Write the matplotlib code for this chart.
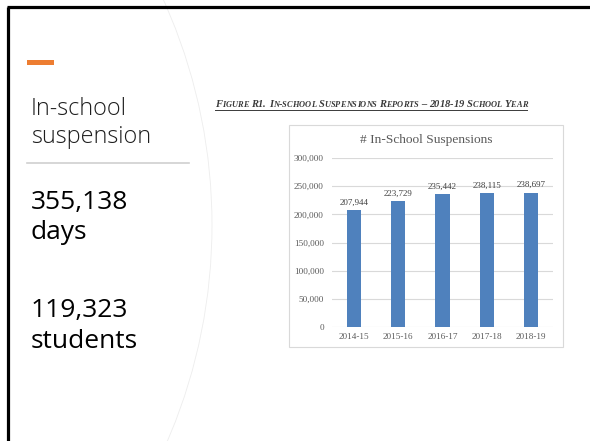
import matplotlib
matplotlib.use("Agg")
import matplotlib.pyplot as plt
from matplotlib.patches import Rectangle, Circle
from matplotlib.lines import Line2D
from matplotlib.font_manager import FontProperties

# data
years = ["2014-15", "2015-16", "2016-17", "2017-18", "2018-19"]
suspensions = [207944, 223729, 235442, 238115, 238697]
yticks = [0, 50000, 100000, 150000, 200000, 250000, 300000]

heading = ["In-school", "suspension"]
stat_days = ["355,138", "days"]
stat_students = ["119,323", "students"]
caption = "Figure R1. In-school Suspensions Reports \u2013 2018-19 School Year"
chart_title = "# In-School Suspensions"

W, H = 590, 441
fig = plt.figure(figsize=(W / 100, H / 100), dpi=100)
fig.patch.set_facecolor("white")

# slide layer in pixel coordinates
bg = fig.add_axes([0, 0, 1, 1], zorder=0)
bg.set_xlim(0, W)
bg.set_ylim(H, 0)
bg.axis("off")

# frame on top and left
bg.add_line(Line2D([7, W], [7, 7], color="black", lw=2.3, solid_capstyle="butt"))
bg.add_line(Line2D([8, 8], [7, H], color="black", lw=2.3, solid_capstyle="butt"))

# faint arc of the slide design
bg.add_patch(Circle((-334, 225), 546, fill=False, ec="#EDEDED", lw=0.6))

# orange accent and divider
bg.add_patch(Rectangle((27, 60), 27, 4.5, color="#ED7D31", lw=0))
bg.add_line(Line2D([27, 189], [163, 163], color="#D0D0D0", lw=1.2))

side_font = "Open Sans"
bg.text(31, 115, heading[0], fontsize=16.8, family=side_font, color="#1E1E1E",
        va="baseline", weight="light")
bg.text(31, 143, heading[1], fontsize=16.8, family=side_font, color="#1E1E1E",
        va="baseline", weight="light")
bg.text(31, 209, stat_days[0], fontsize=19, family=side_font, color="black", va="baseline")
bg.text(31, 239, stat_days[1], fontsize=19, family=side_font, color="black", va="baseline")
bg.text(31, 317, stat_students[0], fontsize=19, family=side_font, color="black", va="baseline")
bg.text(31, 348, stat_students[1], fontsize=19, family=side_font, color="black", va="baseline")

# caption in small caps: lowercase letters drawn as smaller capitals
renderer = fig.canvas.get_renderer()
big_fp = FontProperties(family="Liberation Serif", weight="bold", style="italic", size=7.6)
small_fp = FontProperties(family="Liberation Serif", weight="bold", style="italic", size=6.0)
x = 215
for ch in caption:
    fp = small_fp if ch.islower() else big_fp
    glyph = ch.upper()
    bg.text(x, 107, glyph, fontproperties=fp, color="#3A3A3A", va="baseline")
    w, _, _ = renderer.get_text_width_height_descent(glyph, fp, ismath=False)
    x += w
bg.add_line(Line2D([215, x], [109.5, 109.5], color="#3A3A3A", lw=0.7))

# chart card
bg.add_patch(Rectangle((289, 125), 274, 222, fc="white", ec="#D9D9D9", lw=0.8))
bg.text(426, 140, chart_title, fontsize=9.6, family="Liberation Serif",
        color="#595959", ha="center", va="center")

# bar chart
ax = fig.add_axes([332 / W, 1 - 327 / H, 221 / W, 169 / H], zorder=2)
ax.patch.set_alpha(0)
bars = ax.bar(years, suspensions, width=0.32, color="#4F81BD", zorder=3)
ax.set_ylim(0, 300000)
ax.set_xlim(-0.5, len(years) - 0.5)
ax.set_yticks(yticks)
ax.set_yticklabels([f"{v:,}" for v in yticks])
ax.grid(axis="y", color="#D9D9D9", lw=0.8, zorder=0)
for s in ax.spines.values():
    s.set_visible(False)
ax.tick_params(length=0, labelsize=6.6, labelcolor="#595959")
ax.tick_params(axis="y", pad=5.8)
ax.tick_params(axis="x", pad=4.5)
for lbl in ax.get_xticklabels() + ax.get_yticklabels():
    lbl.set_family("Liberation Serif")

for b, v in zip(bars, suspensions):
    ax.annotate(f"{v:,}", (b.get_x() + b.get_width() / 2, v),
                xytext=(0, 2.5), textcoords="offset points",
                ha="center", va="bottom", fontsize=6.5,
                family="Liberation Serif", color="#404040")

fig.savefig("out.png", dpi=100)
